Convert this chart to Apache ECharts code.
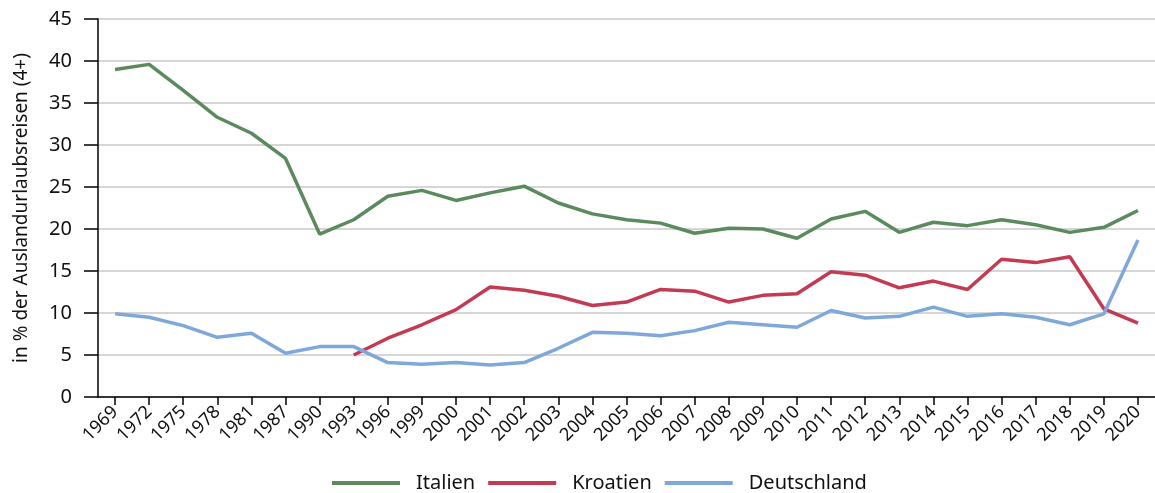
<!DOCTYPE html>
<html>
<head>
<meta charset="utf-8">
<script src="https://cdn.jsdelivr.net/npm/echarts@6/dist/echarts.min.js"></script>
<style>
  html, body { margin: 0; padding: 0; background: #fff; }
  #chart { width: 1155px; height: 493px; }
</style>
</head>
<body>
<div id="chart"></div>
<script>
var years = ['1969','1972','1975','1978','1981','1987','1990','1993','1996','1999','2000','2001','2002','2003','2004','2005','2006','2007','2008','2009','2010','2011','2012','2013','2014','2015','2016','2017','2018','2019','2020'];
var italien = [39.0,39.6,36.5,33.3,31.4,28.4,19.4,21.1,23.9,24.6,23.4,24.3,25.1,23.1,21.8,21.1,20.7,19.5,20.1,20.0,18.9,21.2,22.1,19.6,20.8,20.4,21.1,20.5,19.6,20.2,22.2];
var kroatien = [null,null,null,null,null,null,null,5.0,7.0,8.6,10.4,13.1,12.7,12.0,10.9,11.3,12.8,12.6,11.3,12.1,12.3,14.9,14.5,13.0,13.8,12.8,16.4,16.0,16.7,10.5,8.8];
var deutschland = [9.9,9.5,8.5,7.1,7.6,5.2,6.0,6.0,4.1,3.9,4.1,3.8,4.1,5.8,7.7,7.6,7.3,7.9,8.9,8.6,8.3,10.3,9.4,9.6,10.7,9.6,9.9,9.5,8.6,9.9,18.7];

var chart = echarts.init(document.getElementById('chart'));
var font = 'Noto Sans';

function line(name, data, color) {
  return {
    name: name,
    type: 'line',
    data: data,
    symbol: 'none',
    lineStyle: { color: color, width: 3.5 },
    itemStyle: { color: color }
  };
}

chart.setOption({
  animation: false,
  textStyle: { fontFamily: font },
  grid: { left: 98, right: 0, top: 19, bottom: 96, outerBoundsMode: 'none' },
  legend: {
    bottom: -5,
    left: 327,
    icon: 'rect',
    itemWidth: 68,
    itemHeight: 4,
    itemGap: 13,
    textStyle: { fontSize: 20, color: '#111', fontFamily: font, padding: [0, 0, 0, 11] },
    data: ['Italien', 'Kroatien', 'Deutschland']
  },
  xAxis: {
    type: 'category',
    data: years,
    boundaryGap: true,
    axisLine: { lineStyle: { color: '#000', width: 1.5 } },
    axisTick: { show: true, alignWithLabel: true, length: 8, lineStyle: { color: '#000', width: 1.5 } },
    axisLabel: { interval: 0, rotate: 45, fontSize: 18, color: '#111', margin: 12 }
  },
  yAxis: {
    type: 'value',
    min: 0,
    max: 45,
    interval: 5,
    name: 'in % der Auslandurlaubsreisen (4+)',
    nameLocation: 'middle',
    nameGap: 67,
    nameTextStyle: { fontSize: 19, color: '#111' },
    axisLine: { show: true, lineStyle: { color: '#000', width: 1.5 } },
    axisTick: { show: true, length: 14, lineStyle: { color: '#000', width: 1.5 } },
    axisLabel: { fontSize: 20, color: '#111', margin: 26 },
    splitLine: { lineStyle: { color: '#c8c8c8', width: 1.5 } }
  },
  series: [
    line('Italien', italien, '#5b8a5f'),
    line('Kroatien', kroatien, '#c23b52'),
    line('Deutschland', deutschland, '#7fa8da')
  ]
});
</script>
</body>
</html>
